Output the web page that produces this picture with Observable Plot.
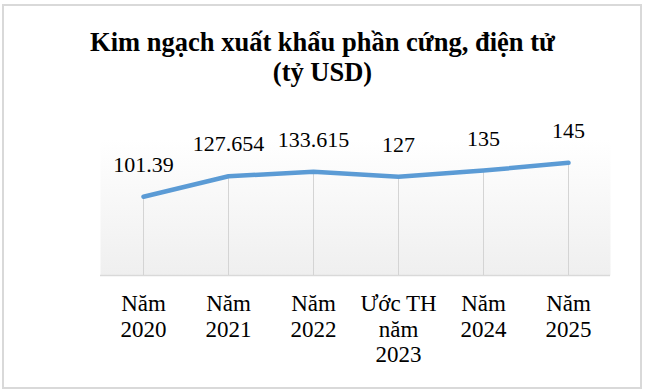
<!DOCTYPE html>
<html>
<head>
<meta charset="utf-8">
<script src="https://cdn.jsdelivr.net/npm/d3@7"></script>
<script src="https://cdn.jsdelivr.net/npm/@observablehq/plot@0.6"></script>
<style>
  html, body { margin: 0; padding: 0; background: #fff; }
  #wrap { position: relative; width: 645px; height: 391px; overflow: hidden; background: #fff; }
  #border { position: absolute; left: 2px; top: 4px; width: 636px; height: 381px; border: 2px solid #d9d9d9; }
  #title { position: absolute; left: 0; top: 27px; width: 645px; text-align: center;
    font-family: "Liberation Serif", "Times New Roman", serif; font-weight: bold; font-size: 26.5px; line-height: 30px; color: #000; }
  #chart { position: absolute; left: 0; top: 0; }
</style>
</head>
<body>
<div id="wrap">
  <div id="border"></div>
  <div id="title">Kim ngạch xuất khẩu phần cứng, điện tử<br>(tỷ USD)</div>
  <div id="chart"></div>
</div>
<script>
const categories = ["Năm 2020", "Năm 2021", "Năm 2022", "Ước TH năm 2023", "Năm 2024", "Năm 2025"];
const tickLabels = [["Năm", "2020"], ["Năm", "2021"], ["Năm", "2022"], ["Ước TH", "năm", "2023"], ["Năm", "2024"], ["Năm", "2025"]];
const values = [101.39, 127.654, 133.615, 127, 135, 145];
const valueLabels = ["101.39", "127.654", "133.615", "127", "135", "145"];

const data = categories.map((c, i) => ({cat: c, value: values[i], label: valueLabels[i], tick: tickLabels[i].join("\n")}));

const defs = () => {
  const svg = d3.create("svg:defs");
  const g = svg.append("linearGradient").attr("id", "bg").attr("x1", 0).attr("y1", 0).attr("x2", 0).attr("y2", 1);
  g.append("stop").attr("offset", "0%").attr("stop-color", "#ffffff");
  g.append("stop").attr("offset", "100%").attr("stop-color", "#efefef");
  return svg.node();
};

const serif = "'Liberation Serif', 'Times New Roman', serif";

const chart = Plot.plot({
  width: 645,
  height: 391,
  marginLeft: 100,
  marginRight: 35,
  marginTop: 139,
  marginBottom: 116,
  style: {background: "transparent", fontFamily: serif},
  x: {type: "point", domain: categories, padding: 0.5, axis: null},
  y: {domain: [0, 175], axis: null},
  marks: [
    defs,
    Plot.frame({fill: "url(#bg)", stroke: null}),
    Plot.ruleY([0], {stroke: "#d9d9d9", strokeWidth: 1.5}),
    Plot.ruleX(data, {x: "cat", y1: 0, y2: "value", stroke: "#d4d4d4", strokeWidth: 1}),
    Plot.line(data, {x: "cat", y: "value", stroke: "#5b9bd5", strokeWidth: 4.5, strokeLinecap: "round", strokeLinejoin: "round"}),
    Plot.text(data, {x: "cat", y: "value", text: "label", dy: -32, fontSize: 22, fontFamily: serif, fill: "#000"}),
    Plot.text(data, {x: "cat", y: 0, text: "tick", dy: 17, lineAnchor: "top", lineHeight: 1.12, fontSize: 23, fontFamily: serif, fill: "#000"})
  ]
});
document.getElementById("chart").appendChild(chart);
</script>
</body>
</html>
